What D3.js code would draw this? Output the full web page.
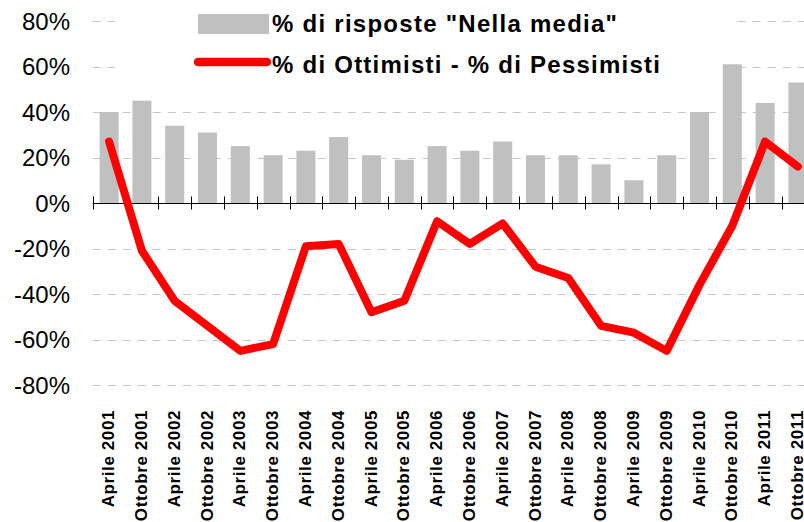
<!DOCTYPE html>
<html>
<head>
<meta charset="utf-8">
<script src="https://cdn.jsdelivr.net/npm/d3@7"></script>
<style>
  body { margin: 0; background: #fff; }
  svg { display: block; font-family: "Liberation Sans", Arial, sans-serif; }
</style>
</head>
<body>
<div id="chart"></div>
<script>
// periodi del sondaggio
const periodi = ["Aprile 2001", "Ottobre 2001", "Aprile 2002", "Ottobre 2002", "Aprile 2003", "Ottobre 2003",
  "Aprile 2004", "Ottobre 2004", "Aprile 2005", "Ottobre 2005", "Aprile 2006", "Ottobre 2006",
  "Aprile 2007", "Ottobre 2007", "Aprile 2008", "Ottobre 2008", "Aprile 2009", "Ottobre 2009",
  "Aprile 2010", "Ottobre 2010", "Aprile 2011", "Ottobre 2011"];
// % di risposte "Nella media"
const nellaMedia = [40, 45, 34, 31, 25, 21, 23, 29, 21, 19, 25, 23, 27, 21, 21, 17, 10, 21, 40, 61, 44, 53];
// % di Ottimisti - % di Pessimisti
const saldo = [27, -21, -43, -54, -65, -62, -19, -18, -48, -43, -8, -18, -9, -28, -33, -54, -57, -65, -36, -10, 27, 16];
const yTicks = [80, 60, 40, 20, 0, -20, -40, -60, -80];
const legendLabels = ['% di risposte "Nella media"', '% di Ottimisti - % di Pessimisti'];

var width = 804, height = 522;
var left = 92.7, right = 814.3;

var svg = d3.select("#chart").append("svg")
    .attr("width", width)
    .attr("height", height);

var x = d3.scaleBand()
    .domain(periodi)
    .range([left, right])
    .paddingInner(0.42)
    .paddingOuter(0.21);
var step = x.step();

var y = d3.scaleLinear()
    .domain([-80, 80])
    .range([385, 21]);

// griglia tratteggiata
svg.append("g").selectAll("line")
    .data(yTicks.filter(d => d != 0))
    .enter().append("line")
    .attr("x1", left).attr("x2", right)
    .attr("y1", d => Math.round(y(d)) + 0.5).attr("y2", d => Math.round(y(d)) + 0.5)
    .attr("stroke", "#c6c6c6")
    .attr("stroke-dasharray", "8,7");

// sfondo legenda
svg.append("rect")
    .attr("x", 115).attr("y", 3)
    .attr("width", 622).attr("height", 82)
    .attr("fill", "#fff");

// barre
svg.append("g").selectAll("rect")
    .data(nellaMedia)
    .enter().append("rect")
    .attr("x", (d, i) => x(periodi[i]))
    .attr("width", x.bandwidth())
    .attr("y", d => y(d))
    .attr("height", d => y(0) - y(d))
    .attr("fill", "#c0c0c0");

// asse x sullo 0%
var y0 = Math.round(y(0)) + 0.5;
svg.append("line")
    .attr("x1", left).attr("x2", right)
    .attr("y1", y0).attr("y2", y0)
    .attr("stroke", "#000");
svg.append("g").selectAll("line")
    .data(d3.range(periodi.length + 1))
    .enter().append("line")
    .attr("x1", i => Math.round(left + i * step) + 0.5)
    .attr("x2", i => Math.round(left + i * step) + 0.5)
    .attr("y1", y0 - 7).attr("y2", y0 + 6)
    .attr("stroke", "#000");

// linea del saldo
var line = d3.line()
    .x((d, i) => x(periodi[i]) + x.bandwidth() / 2)
    .y(d => y(d));
svg.append("path")
    .datum(saldo)
    .attr("d", line)
    .attr("fill", "none")
    .attr("stroke", "#ff0000")
    .attr("stroke-width", 8)
    .attr("stroke-linecap", "round")
    .attr("stroke-linejoin", "round");

// etichette asse y
svg.append("g").selectAll("text")
    .data(yTicks)
    .enter().append("text")
    .attr("x", 70)
    .attr("y", d => y(d))
    .attr("dy", "0.36em")
    .attr("text-anchor", "end")
    .attr("font-size", 24)
    .attr("fill", "#000")
    .text(d => d + "%");

// etichette asse x
svg.append("g").selectAll("text")
    .data(periodi)
    .enter().append("text")
    .attr("transform", d => "translate(" + (x(d) + x.bandwidth() / 2) + ",410) rotate(-90)")
    .attr("dy", "0.3em")
    .attr("text-anchor", "end")
    .attr("font-size", 17)
    .attr("font-weight", "bold")
    .attr("letter-spacing", 0.6)
    .attr("fill", "#000")
    .text(d => d);

// legenda
var legend = svg.append("g");
legend.append("rect")
    .attr("x", 198).attr("y", 14)
    .attr("width", 71).attr("height", 20)
    .attr("fill", "#c0c0c0");
legend.append("line")
    .attr("x1", 198).attr("x2", 267)
    .attr("y1", 62).attr("y2", 62)
    .attr("stroke", "#ff0000")
    .attr("stroke-width", 8.5)
    .attr("stroke-linecap", "round");
legend.selectAll("text")
    .data(legendLabels)
    .enter().append("text")
    .attr("x", 272)
    .attr("y", (d, i) => i == 0 ? 32 : 72.5)
    .attr("font-size", 24)
    .attr("font-weight", "bold")
    .attr("textLength", (d, i) => i == 0 ? 345 : 388)
    .attr("lengthAdjust", "spacing")
    .attr("fill", "#000")
    .text(d => d);
</script>
</body>
</html>
